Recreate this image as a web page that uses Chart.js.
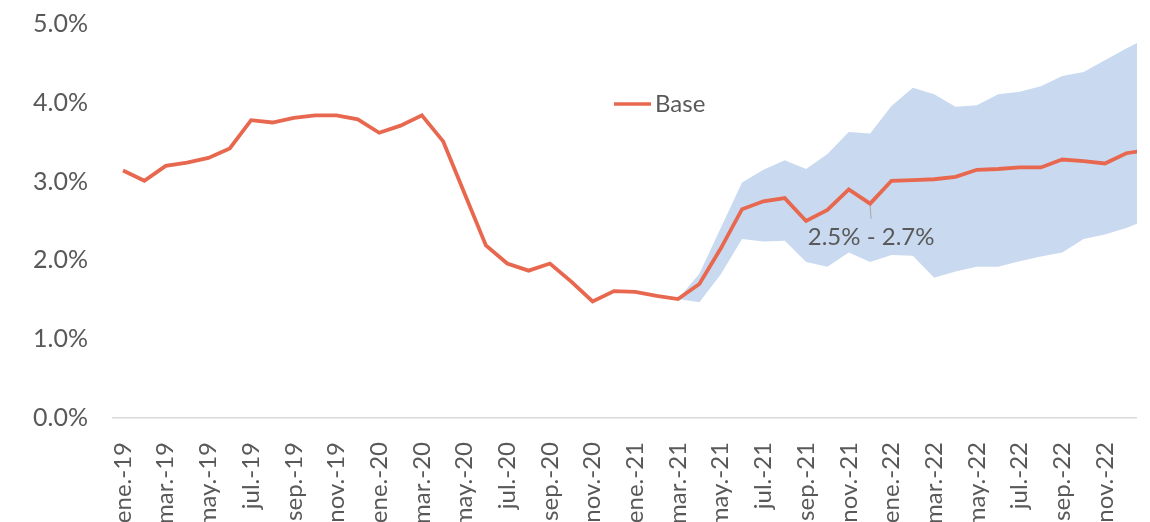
<!DOCTYPE html>
<html>
<head>
<meta charset="utf-8">
<script src="https://cdn.jsdelivr.net/npm/chart.js@4/dist/chart.umd.min.js"></script>
<style>
  html, body { margin: 0; padding: 0; background: #fff; }
  #wrap { width: 1150px; height: 522px; }
</style>
</head>
<body>
<div id="wrap"><canvas id="c"></canvas></div>
<script>
const months = [
  'ene.-19','feb.-19','mar.-19','abr.-19','may.-19','jun.-19','jul.-19','ago.-19','sep.-19','oct.-19','nov.-19','dic.-19',
  'ene.-20','feb.-20','mar.-20','abr.-20','may.-20','jun.-20','jul.-20','ago.-20','sep.-20','oct.-20','nov.-20','dic.-20',
  'ene.-21','feb.-21','mar.-21','abr.-21','may.-21','jun.-21','jul.-21','ago.-21','sep.-21','oct.-21','nov.-21','dic.-21',
  'ene.-22','feb.-22','mar.-22','abr.-22','may.-22','jun.-22','jul.-22','ago.-22','sep.-22','oct.-22','nov.-22','dic.-22',
  'ene.-23'
];

// Base scenario (%)
const base = [
  3.14, 3.01, 3.20, 3.24, 3.30, 3.42, 3.78, 3.75, 3.81, 3.84, 3.84, 3.79,
  3.62, 3.71, 3.84, 3.51, 2.85, 2.19, 1.96, 1.87, 1.96, 1.73, 1.48, 1.61,
  1.60, 1.55, 1.51, 1.70, 2.15, 2.65, 2.75, 2.79, 2.50, 2.64, 2.90, 2.72,
  3.01, 3.02, 3.03, 3.06, 3.15, 3.16, 3.18, 3.18, 3.28, 3.26, 3.23, 3.36,
  3.40
];

// Forecast band, starts at mar.-21
const bandStart = 26;
const bandUpper = [
  1.51, 1.83, 2.41, 2.99, 3.15, 3.27, 3.16, 3.35, 3.63, 3.61,
  3.96, 4.19, 4.11, 3.95, 3.97, 4.11, 4.14, 4.21, 4.34, 4.39, 4.54, 4.69,
  4.83
];
const bandLower = [
  1.51, 1.47, 1.82, 2.27, 2.24, 2.25, 1.98, 1.92, 2.10, 1.98,
  2.07, 2.06, 1.78, 1.86, 1.92, 1.92, 1.99, 2.05, 2.10, 2.27, 2.33, 2.41,
  2.52
];

const yTicks = [0, 1, 2, 3, 4, 5];
const xTickIdx = months.map((m, i) => i).filter(i => i % 2 === 0 && i < 48);

const rangeText = '2.5% - 2.7%';
const rangeAt = 35; // dic.-21

const FONT = 'Lato, "Open Sans", sans-serif';
const TXT = '#595959';
const LINE = '#E8684F';
const BAND = '#C9DAF0';

// legend drawn inside the plot
const innerLegend = {
  id: 'innerLegend',
  afterDraw(chart) {
    const ctx = chart.ctx;
    const ds = chart.data.datasets[0];
    ctx.save();
    ctx.strokeStyle = ds.borderColor;
    ctx.lineWidth = 3.5;
    ctx.beginPath();
    ctx.moveTo(614, 104);
    ctx.lineTo(651, 104);
    ctx.stroke();
    ctx.fillStyle = TXT;
    ctx.font = '24px ' + FONT;
    ctx.textBaseline = 'middle';
    ctx.fillText(ds.label, 655, 104);
    ctx.restore();
  }
};

// range label with its leader line
const rangeLabel = {
  id: 'rangeLabel',
  afterDatasetsDraw(chart) {
    const ctx = chart.ctx;
    const x = chart.scales.x.getPixelForValue(rangeAt);
    const y = chart.scales.y.getPixelForValue(base[rangeAt]);
    ctx.save();
    ctx.strokeStyle = '#A6A6A6';
    ctx.lineWidth = 1;
    ctx.beginPath();
    ctx.moveTo(x, y + 2);
    ctx.lineTo(x + 1, y + 15);
    ctx.stroke();
    ctx.fillStyle = TXT;
    ctx.font = '24px ' + FONT;
    ctx.textAlign = 'center';
    ctx.textBaseline = 'middle';
    ctx.fillText(rangeText, x + 1, y + 34);
    ctx.restore();
  }
};

new Chart(document.getElementById('c'), {
  type: 'line',
  data: {
    datasets: [
      {
        label: 'Base',
        data: base.map((v, i) => ({ x: i, y: v })),
        borderColor: LINE,
        borderWidth: 3.8,
        pointRadius: 0,
        fill: false,
        tension: 0
      },
      {
        label: 'Máx',
        data: bandUpper.map((v, i) => ({ x: bandStart + i, y: v })),
        borderWidth: 0,
        borderColor: 'rgba(0,0,0,0)',
        backgroundColor: BAND,
        pointRadius: 0,
        fill: '+1'
      },
      {
        label: 'Mín',
        data: bandLower.map((v, i) => ({ x: bandStart + i, y: v })),
        borderWidth: 0,
        borderColor: 'rgba(0,0,0,0)',
        pointRadius: 0,
        fill: false
      }
    ]
  },
  options: {
    responsive: true,
    maintainAspectRatio: false,
    animation: false,
    layout: { padding: { top: 24, right: 9, left: 0, bottom: 0 } },
    plugins: {
      legend: { display: false },
      tooltip: { enabled: false }
    },
    scales: {
      x: {
        type: 'linear',
        min: -0.47,
        max: 47.5,
        grid: { display: false },
        border: { display: true, color: '#D9D9D9', width: 1.5 },
        afterBuildTicks: axis => { axis.ticks = xTickIdx.map(v => ({ value: v })); },
        afterFit: axis => { axis.height = 104; },
        ticks: {
          autoSkip: false,
          minRotation: 90,
          maxRotation: 90,
          padding: 16,
          color: TXT,
          font: { family: FONT, size: 24 },
          callback: v => months[v]
        }
      },
      y: {
        min: 0,
        max: 5,
        grid: { display: false },
        border: { display: false },
        afterBuildTicks: axis => { axis.ticks = yTicks.map(v => ({ value: v })); },
        afterFit: axis => {
          axis.width = 113;
          axis.paddingTop = 0;
          axis.paddingBottom = 0;
        },
        ticks: {
          padding: 17,
          color: TXT,
          font: { family: FONT, size: 25 },
          callback: v => v.toFixed(1) + '%'
        }
      }
    }
  },
  plugins: [innerLegend, rangeLabel]
});
</script>
</body>
</html>
